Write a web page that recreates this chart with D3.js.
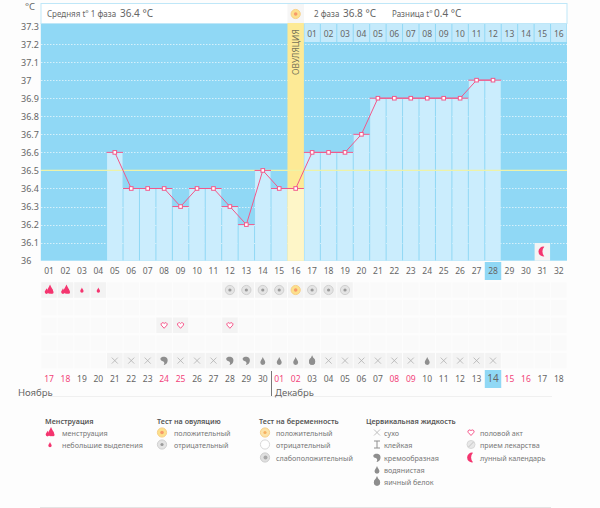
<!DOCTYPE html>
<html>
<head>
<meta charset="utf-8">
<script src="https://cdn.jsdelivr.net/npm/d3@7"></script>
<style>
html,body{margin:0;padding:0;background:#fdfdfd;}
svg{display:block;}
text{font-family:"Noto Sans",sans-serif;font-size:8.5px;fill:#666;}
</style>
</head>
<body>
<div id="chart"></div>
<script>
var cycleDays = d3.range(1, 33);
var dayLabels = cycleDays.map(function(d){ return d3.format("02")(d); });
var dateLabels = ["17","18","19","20","21","22","23","24","25","26","27","28","29","30","01","02","03","04","05","06","07","08","09","10","11","12","13","14","15","16","17","18"];
var weekendCols = [1,2,8,9,15,16,22,23,29,30];
var tempDays = [5,6,7,8,9,10,11,12,13,14,15,16,17,18,19,20,21,22,23,24,25,26,27,28];
var temps = [36.6,36.4,36.4,36.4,36.3,36.4,36.4,36.3,36.2,36.5,36.4,36.4,36.6,36.6,36.6,36.7,36.9,36.9,36.9,36.9,36.9,36.9,37,37];
var tempTicks = [36,36.1,36.2,36.3,36.4,36.5,36.6,36.7,36.8,36.9,37,37.1,37.2,37.3];
var ovulationDay = 16;
var todayDay = 28;
var coverLine = 36.5;
var moonDay = 31;

var row1Days = [1,2,3,4,12,13,14,15,16,17,18,19];
var row1Icons = ["flame","flame","spot","spot","neg","neg","neg","neg","pos","neg","neg","neg"];
var row3Days = [8,9,12];
var fluidDays = [5,6,7,8,9,10,11,12,13,14,15,16,17,18,19,20,21,22,23,24,25,26,27,28];
var fluidIcons = ["dry","dry","dry","cream","dry","dry","dry","cream","cream","water","water","water","egg","dry","dry","dry","dry","dry","dry","water","dry","dry","dry","dry"];

var svg = d3.select("#chart").append("svg").attr("width",600).attr("height",508);

var x = d3.scaleBand().domain(cycleDays).range([40.8,567]);
var y = d3.scaleLinear().domain([36,37.3]).range([260.7,26]);
var rowY = d3.scaleLinear().domain([1,5]).range([290,360.6]);
var bw = x.bandwidth();
function cx(d){ return x(d)+bw/2; }

var PINK = "#f2588a", GREY = "#8e8e8e";

// plot background
svg.append("rect").attr("x",40.8).attr("y",23).attr("width",526.2).attr("height",237.7).attr("fill","#90d8f5");

// header
svg.append("rect").attr("x",41).attr("y",3.5).attr("width",526).attr("height",20).attr("fill","#fff").attr("stroke","#bfe7f8");
svg.append("rect").attr("x",x(ovulationDay)).attr("y",4).attr("width",bw).attr("height",19).attr("fill","#f6f6f6");

// dotted grid
svg.append("g").selectAll("line").data(tempTicks.slice(1,-1)).join("line")
  .attr("x1",41).attr("x2",567).attr("y1",function(d){return Math.round(y(d))+0.5;}).attr("y2",function(d){return Math.round(y(d))+0.5;})
  .attr("stroke","#d4f0fb").attr("stroke-width",1).attr("stroke-dasharray","1.5 1.5");

// temperature bars
svg.append("g").selectAll("rect").data(tempDays).join("rect")
  .attr("x",function(d){return x(d)+0.5;})
  .attr("width",bw-1)
  .attr("y",function(d,i){return y(temps[i]);})
  .attr("height",function(d,i){return y(36)-y(temps[i]);})
  .attr("fill","#cbedfd");

// ovulation column
svg.append("rect").attr("x",x(ovulationDay)).attr("y",23).attr("width",bw).attr("height",237.7).attr("fill","#fdea96");
svg.append("rect").attr("x",x(ovulationDay)).attr("y",y(temps[tempDays.indexOf(ovulationDay)])).attr("width",bw)
  .attr("height",y(36)-y(temps[tempDays.indexOf(ovulationDay)])).attr("fill","#fef6c8");
svg.append("text").attr("transform","translate("+(cx(ovulationDay)+3)+",75) rotate(-90)").style("font-size","8.5px").style("fill","#77755a").text("ОВУЛЯЦИЯ");

// second phase numbering
var phase2 = cycleDays.filter(function(d){return d>ovulationDay;});
svg.append("g").selectAll("rect").data(phase2).join("rect")
  .attr("x",function(d){return x(d)+0.5;}).attr("y",24).attr("width",bw-1).attr("height",18).attr("fill","#c5eafb");
svg.append("g").selectAll("text").data(phase2).join("text")
  .attr("x",cx).attr("y",37).attr("text-anchor","middle")
  .text(function(d){return d3.format("02")(d-ovulationDay);});

// cover line
svg.append("line").attr("x1",41).attr("x2",567).attr("y1",y(coverLine)).attr("y2",y(coverLine)).attr("stroke","#edf2a8").attr("stroke-width",1.2);

// temperature line
var line = d3.line().x(function(d,i){return cx(tempDays[i]);}).y(function(d){return y(d);});
svg.append("g").selectAll("line").data(tempDays).join("line")
  .attr("x1",function(d){return x(d);}).attr("x2",function(d){return x(d)+bw;})
  .attr("y1",function(d,i){return y(temps[i]);}).attr("y2",function(d,i){return y(temps[i]);})
  .attr("stroke",PINK).attr("stroke-width",1);
svg.append("path").datum(temps).attr("d",line).attr("fill","none").attr("stroke",PINK).attr("stroke-width",1);
svg.append("g").selectAll("rect").data(tempDays).join("rect")
  .attr("x",function(d){return cx(d)-1.8;}).attr("y",function(d,i){return y(temps[i])-1.8;})
  .attr("width",3.6).attr("height",3.6).attr("fill","#fff").attr("stroke",PINK).attr("stroke-width",1);

// left axis
var yAxis = d3.axisLeft(y).tickValues(tempTicks).tickSize(0).tickFormat(function(d){return d3.format("~r")(+d.toFixed(1));});
var ag = svg.append("g").attr("transform","translate(21,0)").call(yAxis);
ag.select(".domain").remove();
ag.selectAll("text").attr("x",0).attr("text-anchor","start").attr("dy","0.35em").style("font-size","9px").style("font-family","'Noto Sans',sans-serif");
svg.append("text").attr("x",25).attr("y",10).style("font-size","9.5px").text("°C");

// header texts
svg.append("text").attr("x",47).attr("y",16.5).style("font-size","8px").text("Средняя t° 1 фаза");
svg.append("text").attr("x",120).attr("y",17).style("font-size","10px").text("36.4 °C");
svg.append("text").attr("x",314).attr("y",16.5).style("font-size","8px").text("2 фаза");
svg.append("text").attr("x",343).attr("y",17).style("font-size","10px").text("36.8 °C");
svg.append("text").attr("x",392).attr("y",16.5).style("font-size","8px").text("Разница t°");
svg.append("text").attr("x",434).attr("y",17).style("font-size","10px").text("0.4 °C");

// day numbers under the plot
svg.append("rect").attr("x",x(todayDay)).attr("y",262).attr("width",bw).attr("height",18).attr("fill","#90d8f5");
svg.append("g").selectAll("text").data(cycleDays).join("text")
  .attr("x",cx).attr("y",274).attr("text-anchor","middle").text(function(d,i){return dayLabels[i];});

// empty cells
[1,2,3,4,5].forEach(function(r){
  svg.append("g").selectAll("rect").data(cycleDays).join("rect")
    .attr("x",function(d){return x(d)+0.5;}).attr("y",rowY(r)-7.7).attr("width",bw-1).attr("height",15.4).attr("fill","#fafafa");
});

// icons
function drop(g,px,py,s,col){
  g.append("path").attr("d","M"+px+" "+(py-s)+"C"+(px+s*0.25)+" "+(py-s*0.3)+" "+(px+s*0.65)+" "+(py)+" "+(px+s*0.65)+" "+(py+s*0.4)
    +"A"+(s*0.65)+" "+(s*0.65)+" 0 0 1 "+(px-s*0.65)+" "+(py+s*0.4)+"C"+(px-s*0.65)+" "+py+" "+(px-s*0.25)+" "+(py-s*0.3)+" "+px+" "+(py-s)+"Z").attr("fill",col);
}
function drawIcon(g,name,px,py){
  if(name=="flame"){ drop(g,px+1,py-1,4.5,"#f4356f"); drop(g,px-2.5,py+1,2.8,"#f4356f"); drop(g,px+3,py+1.2,2.4,"#f4356f"); }
  if(name=="spot"){ drop(g,px,py,2.6,"#f4356f"); }
  if(name=="neg"){
    g.append("circle").attr("cx",px).attr("cy",py).attr("r",4.6).attr("fill","#e4e4e4").attr("stroke","#d0d0d0");
    g.append("circle").attr("cx",px).attr("cy",py).attr("r",1.6).attr("fill","#9a9a9a");
  }
  if(name=="pos"){
    g.append("circle").attr("cx",px).attr("cy",py).attr("r",4.6).attr("fill","#fce08c").attr("stroke","#f8d088");
    g.append("circle").attr("cx",px).attr("cy",py).attr("r",1.8).attr("fill","#f79a6a");
  }
  if(name=="heart"){
    g.append("path").attr("d","M"+px+" "+(py+3)+"L"+(px-2.9)+" "+(py-0.2)+"A1.6 1.6 0 0 1 "+px+" "+(py-1.7)+"A1.6 1.6 0 0 1 "+(px+2.9)+" "+(py-0.2)+"Z")
      .attr("fill","#fff").attr("stroke","#f6588c").attr("stroke-width",1);
  }
  if(name=="dry"){
    g.append("path").attr("d","M"+(px-3)+" "+(py-3)+"L"+(px+3)+" "+(py+3)+"M"+(px+3)+" "+(py-3)+"L"+(px-3)+" "+(py+3)).attr("stroke","#b0b0b0").attr("stroke-width",0.8);
  }
  if(name=="sticky"){
    g.append("path").attr("d","M"+(px-3)+" "+(py-3.5)+"H"+(px+3)+"M"+px+" "+(py-3.5)+"V"+(py+3.5)+"M"+(px-3)+" "+(py+3.5)+"H"+(px+3)).attr("stroke","#909090").attr("fill","none");
  }
  if(name=="cream"){
    g.append("path").attr("d","M"+(px-3.5)+" "+(py-2.5)+"C"+(px-1)+" "+(py-5)+" "+(px+4)+" "+(py-3.5)+" "+(px+3.5)+" "+py+"C"+(px+3.5)+" "+(py+3)+" "+(px+1)+" "+(py+4.5)+" "+(px-0.5)+" "+(py+4.5)+"C"+(px+1)+" "+(py+2.5)+" "+px+" "+(py+0.5)+" "+(px-2)+" "+(py+0.3)+"C"+(px-3.5)+" "+py+" "+(px-4)+" "+(py-1.5)+" "+(px-3.5)+" "+(py-2.5)+"Z").attr("fill",GREY);
  }
  if(name=="water"){ drop(g,px,py+0.3,3.8,GREY); }
  if(name=="egg"){ drop(g,px,py-0.8,4.6,GREY); g.append("ellipse").attr("cx",px).attr("cy",py+0.8).attr("rx",3.1).attr("ry",3.4).attr("fill",GREY); }
  if(name=="pill"){
    g.append("circle").attr("cx",px).attr("cy",py).attr("r",4).attr("fill","#e8e8e8").attr("stroke","#d8d8d8");
    g.append("line").attr("x1",px-2.5).attr("y1",py+2.5).attr("x2",px+2.5).attr("y2",py-2.5).attr("stroke","#c4c4c4");
  }
  if(name=="preg"){
    g.append("circle").attr("cx",px).attr("cy",py).attr("r",4.6).attr("fill","#fff").attr("stroke","#d8d8d8");
  }
  if(name=="weak"){
    g.append("circle").attr("cx",px).attr("cy",py).attr("r",4.6).attr("fill","#e0e0e0").attr("stroke","#cccccc");
    g.append("circle").attr("cx",px+0.5).attr("cy",py).attr("r",2).attr("fill","#a8a8a8");
  }
  if(name=="posp"){
    g.append("circle").attr("cx",px).attr("cy",py).attr("r",4.6).attr("fill","#fce3a8").attr("stroke","#f8d088");
    g.append("circle").attr("cx",px).attr("cy",py).attr("r",1.6).attr("fill","#f7b060");
  }
  if(name=="moon"){
    g.append("path").attr("d","M"+(px+2)+" "+(py-4.8)+"A4.9 4.9 0 1 0 "+(px+2)+" "+(py+4.8)+"A7 7 0 0 1 "+(px+2)+" "+(py-4.8)+"Z").attr("fill","#f4356f");
  }
}
function iconRow(days,icons,r,cellFill){
  var g = svg.append("g");
  days.forEach(function(d,i){
    g.append("rect").attr("x",x(d)+0.5).attr("y",rowY(r)-7.7).attr("width",bw-1).attr("height",15.4).attr("fill",cellFill||"#f3f3f3");
    drawIcon(g,icons[i],cx(d),rowY(r));
  });
}
iconRow(row1Days,row1Icons,1);
iconRow(row3Days,row3Days.map(function(){return "heart";}),3);
iconRow(fluidDays,fluidIcons,5);

// lunar calendar mark inside the plot
svg.append("rect").attr("x",x(moonDay)+0.5).attr("y",243).attr("width",bw-1).attr("height",17.7).attr("fill","#f4f4f4");
drawIcon(svg.append("g"),"moon",cx(moonDay),251.5);

// dates
svg.append("rect").attr("x",x(todayDay)).attr("y",370).attr("width",bw).attr("height",18).attr("fill","#90d8f5");
svg.append("g").selectAll("text").data(cycleDays).join("text")
  .attr("x",cx).attr("y",382).attr("text-anchor","middle")
  .style("fill",function(d){return weekendCols.indexOf(d)>=0?"#f2437a":"#666";})
  .style("font-size",function(d){return d==todayDay?"10px":"8.5px";})
  .text(function(d,i){return dateLabels[i];});

// months
svg.append("line").attr("x1",271.5).attr("x2",271.5).attr("y1",371).attr("y2",397).attr("stroke","#777");
svg.append("line").attr("x1",50).attr("x2",552).attr("y1",396.5).attr("y2",396.5).attr("stroke","#f0f0f0");
svg.append("text").attr("x",18).attr("y",396).style("font-size","9.5px").text("Ноябрь");
svg.append("text").attr("x",275).attr("y",396).style("font-size","9.5px").text("Декабрь");

// legend
var legendTitles = ["Менструация","Тест на овуляцию","Тест на беременность","Цервикальная жидкость"];
var legendTitleX = [45,157,259,366];
var legendRows = [433,445,458,470,482];
var legendItems = [
  {ix:50,tx:62,icons:["flame","spot"],labels:["менструация","небольшие выделения"]},
  {ix:162,tx:174,icons:["pos","neg"],labels:["положительный","отрицательный"]},
  {ix:265,tx:276,icons:["posp","preg","weak"],labels:["положительный","отрицательный","слабоположительный"]},
  {ix:377,tx:384,icons:["dry","sticky","cream","water","egg"],labels:["сухо","клейкая","кремообразная","водянистая","яичный белок"]},
  {ix:471,tx:480,icons:["heart","pill","moon"],labels:["половой акт","прием лекарства","лунный календарь"]}
];
svg.append("g").selectAll("text").data(legendTitles).join("text")
  .attr("x",function(d,i){return legendTitleX[i];}).attr("y",424)
  .style("font-size","7.2px").style("font-weight","600").style("fill","#555").text(function(d){return d;});
legendItems.forEach(function(col){
  var g = svg.append("g");
  col.labels.forEach(function(t,i){
    drawIcon(g,col.icons[i],col.ix,legendRows[i]-0.5);
    g.append("text").attr("x",col.tx).attr("y",legendRows[i]+3).style("font-size","7.2px").style("fill","#777").text(t);
  });
});
// sun in header
drawIcon(svg.append("g"),"pos",cx(ovulationDay),14);
svg.append("line").attr("x1",40).attr("x2",551).attr("y1",507.5).attr("y2",507.5).attr("stroke","#e4e4e4");
</script>
</body>
</html>
